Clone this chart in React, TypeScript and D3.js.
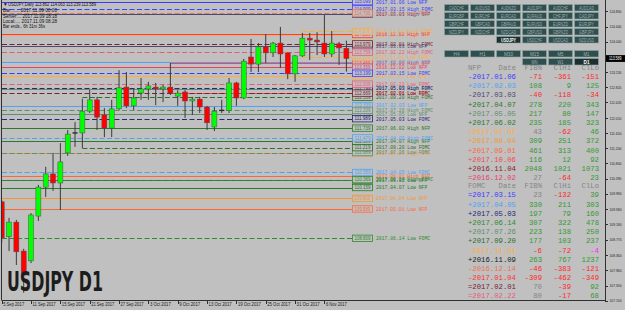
import React from "react";
import * as d3 from "d3";

// ---------- DATA ----------
const dates = [
  "2017.09.05","2017.09.06","2017.09.07","2017.09.08","2017.09.11","2017.09.12","2017.09.13","2017.09.14","2017.09.15",
  "2017.09.18","2017.09.19","2017.09.20","2017.09.21","2017.09.22","2017.09.25","2017.09.26","2017.09.27","2017.09.28",
  "2017.09.29","2017.10.02","2017.10.03","2017.10.04","2017.10.05","2017.10.06","2017.10.09","2017.10.10","2017.10.11",
  "2017.10.12","2017.10.13","2017.10.16","2017.10.17","2017.10.18","2017.10.19","2017.10.20","2017.10.23","2017.10.24",
  "2017.10.25","2017.10.26","2017.10.27","2017.10.30","2017.10.31","2017.11.01","2017.11.02","2017.11.03","2017.11.06",
  "2017.11.07","2017.11.08","2017.11.09",
];
const opens = [109.78,108.85,109.24,108.47,108.21,109.40,110.17,110.52,110.28,111.08,111.60,111.61,112.19,112.49,112.09,111.74,112.25,112.83,112.33,112.67,112.78,112.83,112.78,112.83,112.59,112.70,112.46,112.51,112.30,111.77,112.20,112.20,112.94,112.54,113.63,113.44,113.90,113.74,114.00,113.74,113.18,113.66,114.13,114.08,114.00,113.71,113.98,113.862];
const highs = [109.83,109.35,109.30,108.53,109.48,110.23,110.71,111.08,111.34,111.69,111.90,112.52,112.75,112.57,112.27,112.49,113.28,113.23,112.78,113.07,112.97,112.94,112.89,113.47,112.75,112.75,112.57,112.57,112.33,112.30,112.49,113.07,112.97,113.58,114.11,114.00,114.24,114.03,114.43,113.74,113.68,114.27,114.27,114.29,114.75,114.32,114.03,114.063];
const lows = [108.69,108.47,108.10,107.36,108.15,109.27,109.91,110.07,109.56,111.00,111.24,111.21,112.14,111.69,111.50,111.50,112.22,112.27,112.22,112.49,112.49,112.35,112.43,112.62,112.33,112.01,112.09,112.14,111.69,111.66,112.14,112.14,112.33,112.51,113.23,113.23,113.47,113.63,113.34,113.04,112.97,113.63,113.55,113.68,113.63,113.63,113.42,113.239];
const closes = [108.82,109.24,108.45,107.83,109.43,110.17,110.52,110.28,110.84,111.58,111.61,112.19,112.49,112.03,111.74,112.25,112.81,112.33,112.54,112.78,112.86,112.78,112.83,112.67,112.67,112.46,112.51,112.30,111.88,112.19,112.21,112.94,112.54,113.52,113.44,113.90,113.74,114.00,113.71,113.18,113.66,114.13,114.08,114.03,113.71,114.00,113.87,113.589];

const priceTicks = [114.85,114.44,114.04,113.63,113.23,112.82,112.42,112.01,111.61,111.2,110.8,110.39,109.99,109.58,109.18,108.77,108.36,107.96,107.55,107.15];
const timeTickDates = ["2017.09.05","2017.09.11","2017.09.15","2017.09.21","2017.09.27","2017.10.03","2017.10.09","2017.10.13","2017.10.19","2017.10.25","2017.10.31","2017.11.06"];
const timeTickLabels = ["5 Sep 2017","11 Sep 2017","15 Sep 2017","21 Sep 2017","27 Sep 2017","3 Oct 2017","9 Oct 2017","13 Oct 2017","19 Oct 2017","25 Oct 2017","31 Oct 2017","6 Nov 2017"];

const nfpDates = ["2017.01.06","2017.02.03","2017.03.03","2017.04.07","2017.05.05","2017.06.02","2017.07.07","2017.08.04","2017.09.01","2017.10.06","2016.11.04","2016.12.02"];
const nfpSigns = ["-","+","-","+","+","+","=","+","+","+","+","="];
const nfpFib = [-71,108,-40,278,217,235,43,309,461,116,2048,27];
const nfpClHi = [-361,9,-118,220,80,185,-62,251,313,12,1021,-64];
const nfpClLo = [-151,125,-34,343,147,323,46,372,400,92,1073,23];

const fomcDates = ["2017.03.15","2017.04.05","2017.05.03","2017.06.14","2017.07.26","2017.09.20","2017.11.01","2016.11.09","2016.12.14","2017.01.04","2017.02.01","2017.02.22"];
const fomcSigns = ["=","+","+","+","+","+","-","+","-","-","=","="];
const fomcFib = [23,330,197,307,223,177,-6,263,-46,-309,70,80];
const fomcClHi = [-132,211,79,322,138,103,-72,767,-383,-462,-39,-17];
const fomcClLo = [39,303,160,478,250,237,-4,1237,-121,-349,92,68];

const pairRows = [
  ["CADCHF","AUDUSD","AUDNZD","AUDJPY","AUDCHF","AUDCAD"],
  ["EURGBP","EURCHF","EURCAD","EURAUD","CHFJPY","CADJPY"],
  ["GBPCHF","GBPCAD","GBPAUD","EURUSD","EURNZD","EURJPY"],
  ["NZDJPY","NZDCHF","NZDCAD","GBPUSD","GBPNZD","GBPJPY"],
  ["","","USDJPY","USDCHF","USDCAD","NZDUSD"],
];
const tfRows = [
  ["H4","H1","M30","M15","M5","M1"],
  ["","","","MN","W1","D1"],
];
const symbolName = "USDJPY";
const periodName = "D1";

// ---------- STYLES ----------
const nfpColors = ["#3c3cff","#4ea2f5","#4a4a78","#2a7a2a","#5f8f6c","#2a7a2a","#ffad3a","#f39830","#ff6638","#f04a4a","#8b1a2a","#e8406a"];
const fomcColors = ["#3c3cff","#4ea2f5","#26267a","#2e8b2e","#5f8f6c","#2e6e2e","#ffad3a","#1a1a1a","#f07050","#ff3030","#7a2030","#e85a78"];
const BG = "#c0c0c0";
const MONO = "'Liberation Mono','DejaVu Sans Mono',monospace";
const SANS = "'Liberation Sans','DejaVu Sans',Arial,sans-serif";

const W = 625, H = 310;
const CH_LEFT = 2, CH_RIGHT = 605, CH_BOTTOM = 300;

export default function App() {
  const x = d3.scalePoint<string>().domain(dates).range([1.7, 346.4]);
  const y = d3.scaleLinear().domain([107.15, 114.85]).range([300.7, 11.1]);
  const last = closes[closes.length - 1];

  const candles = dates.map((d, i) => ({ d, o: opens[i], h: highs[i], l: lows[i], c: closes[i] }));

  const events = [
    ...nfpDates.map((d, i) => ({ d, type: "NFP", color: nfpColors[i], hi: last - nfpClHi[i] / 100, lo: last - nfpClLo[i] / 100 })),
    ...fomcDates.map((d, i) => ({ d, type: "FOMC", color: fomcColors[i], hi: last - fomcClHi[i] / 100, lo: last - fomcClLo[i] / 100 })),
  ];
  const levels: { d: string; type: string; color: string; kind: string; price: number }[] = [];
  events.forEach((e) => {
    levels.push({ ...e, kind: "High", price: e.hi });
    levels.push({ ...e, kind: "Low", price: e.lo });
  });
  const visible = levels.filter((l) => y(l.price) > -1 && y(l.price) < CH_BOTTOM);

  const cw = 4.36;
  const red = "#ff2a2a", green = "#349a34", gray = "#858585", magenta = "#ff22ff";
  const fibColor = (v: number) => (v < 0 ? red : v <= 100 ? gray : green);
  const clColor = (v: number) => (v < 0 && v > -10 ? magenta : v < 0 ? red : green);

  const rowStep = 9.18;
  const tableRows = [
    { header: "NFP", y0: 67.1, dates: nfpDates, signs: nfpSigns, fib: nfpFib, hi: nfpClHi, lo: nfpClLo, colors: nfpColors },
    { header: "FOMC", y0: 185.5, dates: fomcDates, signs: fomcSigns, fib: fomcFib, hi: fomcClHi, lo: fomcClLo, colors: fomcColors },
  ];
  const colDate = 468, colFib = 542, colHi = 571, colLo = 599;

  const T = (props: any) => {
    const { s, len, ...rest } = props;
    return (
      <text {...rest} textLength={len} lengthAdjust="spacingAndGlyphs">{s}</text>
    );
  };

  const btnX = (i: number) => 444 + 26 * i;

  return (
    <svg width={W} height={H} style={{ position: "fixed", left: 0, top: 0, display: "block" }}>
      <rect x={0} y={0} width={W} height={H} fill={BG} />
      <defs>
        <clipPath id="plot">
          <rect x={CH_LEFT} y={0} width={CH_RIGHT - CH_LEFT} height={CH_BOTTOM} />
        </clipPath>
      </defs>

      {/* event level lines */}
      <g clipPath="url(#plot)">
        {visible.map((l, i) => {
          const idx = dates.indexOf(l.d);
          const x0 = idx >= 0 ? (x(l.d) as number) : CH_LEFT;
          const yy = Math.round(y(l.price)) + 0.5;
          return (
            <line key={"lv" + i} x1={x0} x2={352} y1={yy} y2={yy} stroke={l.color} strokeWidth={1}
              strokeDasharray={l.type === "FOMC" ? "5,2.5" : undefined} />
          );
        })}
      </g>

      {/* candles */}
      <g clipPath="url(#plot)">
        {candles.map((c, i) => {
          const cx = x(c.d) as number;
          const doji = Math.abs(c.c - c.o) < 0.015;
          const up = c.c >= c.o;
          const top = y(Math.max(c.o, c.c));
          const bot = y(Math.min(c.o, c.c));
          return (
            <g key={"c" + i}>
              <line x1={cx} x2={cx} y1={y(c.h)} y2={y(c.l)} stroke="#3a3a3a" strokeWidth={1} />
              {doji ? (
                <line x1={cx - 2.5} x2={cx + 2.5} y1={top} y2={top} stroke="#2a2a2a" strokeWidth={1.4} />
              ) : (
                <rect x={cx - 2.5} y={top} width={5} height={Math.max(1, bot - top)}
                  fill={up ? "#00ff00" : "#ff0000"} stroke="#505050" strokeWidth={0.5} />
              )}
            </g>
          );
        })}
      </g>

      {/* level labels */}
      {visible.map((l, i) => {
        const yy = y(l.price);
        const label = `${l.d} ${l.kind} ${l.type}`;
        return (
          <g key={"lb" + i}>
            <rect x={352.5} y={yy - 3.2} width={20} height={6.4} fill={BG} stroke={l.color} strokeWidth={0.8} />
            <T s={l.price.toFixed(3)} len={16} x={354.5} y={yy + 1.7} fontSize={4.8} fontFamily={SANS} fill={l.color} />
            <T s={label} len={label.length * 2.85} x={376} y={yy + 1.8} fontSize={5.2} fontFamily={MONO} fill={l.color} />
          </g>
        );
      })}

      {/* frame */}
      <line x1={1.5} x2={1.5} y1={0} y2={CH_BOTTOM} stroke="#303030" strokeWidth={1} />
      <line x1={1.5} x2={CH_RIGHT} y1={CH_BOTTOM + 0.5} y2={CH_BOTTOM + 0.5} stroke="#303030" strokeWidth={1} />
      <line x1={CH_RIGHT + 0.5} x2={CH_RIGHT + 0.5} y1={0} y2={CH_BOTTOM + 1} stroke="#303030" strokeWidth={1} />

      {/* price axis */}
      {priceTicks.map((p, i) => {
        const yy = y(p);
        return (
          <g key={"pt" + i}>
            <line x1={CH_RIGHT} x2={CH_RIGHT + 3} y1={Math.round(yy) + 0.5} y2={Math.round(yy) + 0.5} stroke="#303030" />
            <T s={p.toFixed(3)} len={12} x={609.5} y={Math.min(yy + 1.6, 303)} fontSize={4.4} fontFamily={SANS} fill="#202020" />
          </g>
        );
      })}
      <rect x={606} y={y(last) - 3.4} width={19} height={6.8} fill="#000" />
      <T s={last.toFixed(3)} len={12.5} x={609} y={y(last) + 1.7} fontSize={4.6} fontFamily={SANS} fill="#fff" />

      {/* time axis */}
      {timeTickDates.map((d, i) => {
        const xx = x(d) as number;
        return (
          <g key={"tt" + i}>
            <line x1={Math.round(xx) + 0.5} x2={Math.round(xx) + 0.5} y1={CH_BOTTOM} y2={CH_BOTTOM + 4} stroke="#303030" />
            <T s={timeTickLabels[i]} len={timeTickLabels[i].length * 2.1} x={xx + 1.5} y={306} fontSize={4.6} fontFamily={SANS} fill="#202020" />
          </g>
        );
      })}

      {/* info text */}
      <text x={3} y={6} fontSize={4.8} fontFamily={SANS} fill="#101010">▼</text>
      <T s={`${symbolName},Daily  ${opens[47].toFixed(3)} ${highs[47].toFixed(3)} ${lows[47].toFixed(3)} ${last.toFixed(3)}`} len={88} x={8} y={6.2} fontSize={4.8} fontFamily={SANS} fill="#101010" />
      <T s="Bar:...... 2017.11.09 00:00" len={54} x={3} y={12.4} fontSize={4.6} fontFamily={SANS} fill="#101010" />
      <T s="Server:... 2017.11.09 18:18" len={54} x={3} y={17.6} fontSize={4.6} fontFamily={SANS} fill="#101010" />
      <T s="Local:.... 2017.11.09 08:28" len={54} x={3} y={23} fontSize={4.6} fontFamily={SANS} fill="#101010" />
      <T s="Bar ends.. 6h 31m 36s" len={42} x={3} y={28.4} fontSize={4.6} fontFamily={SANS} fill="#101010" />

      {/* big symbol label */}
      <T s={`${symbolName} ${periodName}`} len={96} x={7} y={290.5} fontSize={26} fontWeight="bold"
        fontFamily="'DejaVu Sans Condensed','Liberation Sans Narrow','DejaVu Sans',sans-serif" fill="#1c1c1c" />

      {/* symbol buttons */}
      {pairRows.map((row, r) =>
        row.map((s, c) => {
          if (!s) return null;
          const sel = s === symbolName;
          const by = 4 + 8 * r;
          return (
            <g key={"b" + r + c}>
              <rect x={btnX(c) + 0.5} y={by + 0.5} width={24} height={6.5} fill={sel ? "#1c3030" : "#2f4f4f"} stroke="#90a4a4" strokeWidth={0.6} />
              <T s={s} len={15} x={btnX(c) + 12.5} y={by + 5.5} textAnchor="middle" fontSize={4.6} fontFamily={SANS}
                fill={sel ? "#ffffff" : "#9db0b0"} fontWeight={sel ? "bold" : "normal"} />
            </g>
          );
        })
      )}
      {tfRows.map((row, r) =>
        row.map((s, c) => {
          if (!s) return null;
          const sel = s === periodName;
          const by = 50 + 8 * r;
          return (
            <g key={"t" + r + c}>
              <rect x={btnX(c) + 0.5} y={by + 0.5} width={24} height={6.5} fill={sel ? "#1c3030" : "#2f4f4f"} stroke="#90a4a4" strokeWidth={0.6} />
              <T s={s} len={s.length * 3} x={btnX(c) + 12.5} y={by + 5.5} textAnchor="middle" fontSize={4.6} fontFamily={SANS}
                fill={sel ? "#ffffff" : "#9db0b0"} fontWeight={sel ? "bold" : "normal"} />
            </g>
          );
        })
      )}

      {/* tables */}
      {tableRows.map((t, ti) => (
        <g key={"tb" + ti} fontFamily={MONO} fontSize={8}>
          <T s={t.header} len={t.header.length * cw} x={colDate} y={t.y0 + 2.8} fill={gray} />
          <T s="Date" len={4 * cw} x={colDate + 48} y={t.y0 + 2.8} fill={gray} textAnchor="end" />
          <T s="FIB%" len={4 * cw} x={colFib} y={t.y0 + 2.8} fill={gray} textAnchor="end" />
          <T s="ClHi" len={4 * cw} x={colHi} y={t.y0 + 2.8} fill={gray} textAnchor="end" />
          <T s="ClLo" len={4 * cw} x={colLo} y={t.y0 + 2.8} fill={gray} textAnchor="end" />
          {t.dates.map((d, k) => {
            const yy = t.y0 + rowStep * (k + 1) + 2.8;
            const ds = t.signs[k] + d;
            const f = String(t.fib[k]), h = String(t.hi[k]), lo = String(t.lo[k]);
            return (
              <g key={"r" + k}>
                <T s={ds} len={ds.length * cw} x={colDate} y={yy} fill={t.colors[k]} />
                <T s={f} len={f.length * cw} x={colFib} y={yy} fill={fibColor(t.fib[k])} textAnchor="end" />
                <T s={h} len={h.length * cw} x={colHi} y={yy} fill={clColor(t.hi[k])} textAnchor="end" />
                <T s={lo} len={lo.length * cw} x={colLo} y={yy} fill={clColor(t.lo[k])} textAnchor="end" />
              </g>
            );
          })}
        </g>
      ))}
    </svg>
  );
}
